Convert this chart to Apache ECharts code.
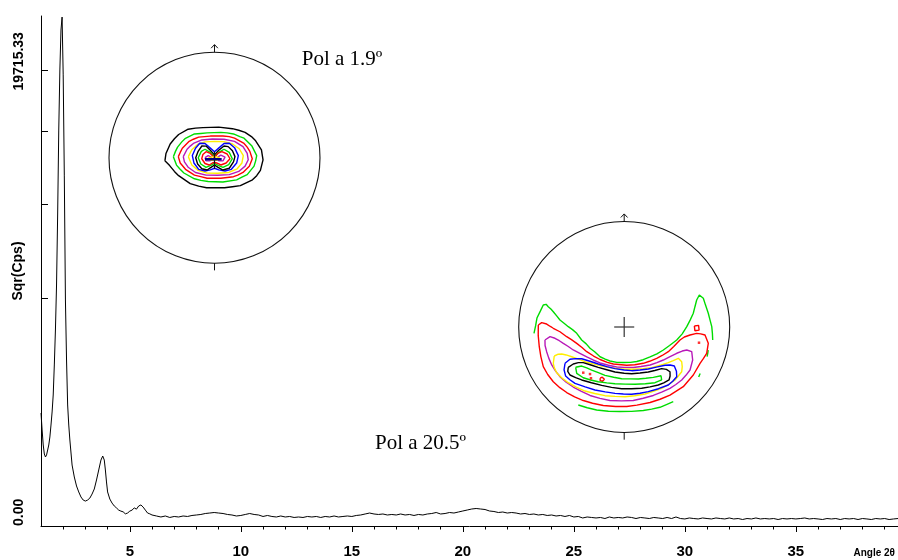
<!DOCTYPE html>
<html>
<head>
<meta charset="utf-8">
<title>Sqr(Cps) scan with pole figures</title>
<script src="https://cdn.jsdelivr.net/npm/echarts@6.0.0/dist/echarts.min.js"></script>
<style>
html, body { margin: 0; padding: 0; background: #fff; }
#chart { width: 898px; height: 560px; }
</style>
</head>
<body>
<div id="chart"></div>
<script>
// 2theta scan (degrees) and intensity (cps), plotted on a square-root scale
var angle = [
  1.00,1.05,1.10,1.15,1.20,1.25,1.30,1.35,1.40,1.45,
  1.50,1.55,1.60,1.65,1.70,1.75,1.80,1.85,1.90,1.95,
  2.00,2.05,2.10,2.15,2.20,2.25,2.30,2.40,2.50,2.60,
  2.70,2.80,2.90,3.00,3.10,3.20,3.30,3.40,3.50,3.60,
  3.70,3.78,3.85,3.90,3.95,4.00,4.10,4.20,4.30,4.40,
  4.50,4.60,4.70,4.80,4.90,5.00,5.10,5.20,5.30,5.40,
  5.50,5.60,5.70,5.80,5.90,6.00,
  6.2,6.4,6.6,6.8,7.0,7.2,7.4,7.6,7.8,8.0,
  8.2,8.4,8.6,8.8,9.0,9.2,9.4,9.6,9.8,10.0,
  10.2,10.4,10.6,10.8,11.0,11.2,11.4,11.6,11.8,12.0,
  12.2,12.4,12.6,12.8,13.0,13.2,13.4,13.6,13.8,14.0,
  14.2,14.4,14.6,14.8,15.0,15.2,15.4,15.6,15.8,16.0,
  16.2,16.4,16.6,16.8,17.0,17.2,17.4,17.6,17.8,18.0,
  18.2,18.4,18.6,18.8,19.0,19.2,19.4,19.6,19.8,20.0,
  20.2,20.4,20.6,20.8,21.0,21.2,21.4,21.6,21.8,22.0,
  22.2,22.4,22.6,22.8,23.0,23.2,23.4,23.6,23.8,24.0,
  24.2,24.4,24.6,24.8,25.0,25.2,25.4,25.6,25.8,26.0,
  26.2,26.4,26.6,26.8,27.0,27.2,27.4,27.6,27.8,28.0,
  28.2,28.4,28.6,28.8,29.0,29.2,29.4,29.6,29.8,30.0,
  30.2,30.4,30.6,30.8,31.0,31.2,31.4,31.6,31.8,32.0,
  32.2,32.4,32.6,32.8,33.0,33.2,33.4,33.6,33.8,34.0,
  34.2,34.4,34.6,34.8,35.0,35.2,35.4,35.6,35.8,36.0,
  36.2,36.4,36.6,36.8,37.0,37.2,37.4,37.6,37.8,38.0,
  38.2,38.4,38.6,38.8,39.0,39.2,39.4,39.6
];
var cps = [
  1211,875,623,492,452,479,548,623,752,968,
  1234,1629,2461,3647,5514,9182,14886,19741,23354,24590,
  19320,11690,4849,2616,1390,968,702,353,228,152,
  110,80,64,59,64,74,97,130,201,298,
  413,465,413,298,184,110,69,50,38,31,
  24,21,19,14,16,21,24,31,27,38,
  42,34,24,16,14,11.5,
  9.5,7.7,9.5,6.9,8.6,7.7,9.5,8.6,10.5,11.5,
  12.6,14.8,16.0,17.3,16.0,14.8,12.6,11.5,9.5,10.5,
  12.6,14.8,12.6,11.5,8.6,10.5,8.6,7.7,9.5,7.7,
  8.6,6.9,7.7,6.9,8.6,7.7,8.6,6.9,8.6,7.7,
  9.5,7.7,8.6,9.5,8.6,10.5,11.5,13.7,16.0,13.7,
  12.6,13.7,11.5,12.6,11.5,13.7,11.5,12.6,10.5,12.6,
  11.5,13.7,14.8,17.3,13.7,14.8,17.3,16.0,18.6,21.4,
  24.3,27.4,29.1,27.4,25.8,21.4,20.0,17.3,18.6,16.0,
  17.3,16.0,13.7,14.8,12.6,13.7,11.5,12.6,10.5,11.5,
  9.5,10.5,8.6,10.5,7.7,8.6,6.1,7.7,6.9,6.1,
  6.9,5.3,7.7,6.1,6.9,6.1,7.7,6.9,5.3,6.9,
  6.1,5.3,6.9,6.1,5.3,6.9,5.3,7.7,5.3,4.7,
  6.1,5.3,4.7,6.1,5.3,4.7,6.1,5.3,4.7,6.1,
  4.7,5.3,4.0,5.3,4.7,6.1,4.7,5.3,4.7,5.3,
  4.0,5.3,4.7,5.3,4.7,5.3,6.1,4.7,5.3,4.7,
  4.0,5.3,4.7,5.3,4.0,5.3,4.7,5.3,4.0,5.3,
  4.7,4.0,5.3,4.7,5.3,4.0,4.7,5.3
];
var xRange = [1, 39.6];
var xMajor = [5, 10, 15, 20, 25, 30, 35];
var xMinor = [2,3,4,6,7,8,9,11,12,13,14,16,17,18,19,21,22,23,24,26,27,28,29,31,32,33,34,36,37,38,39];
var yTop = 24693;
var yTicks = [4928.83, 9857.67, 14786.50, 19715.33];
var yLabelLow = 0;
var yLabelHigh = 19715.33;

// pole figure at 1.9 deg, units: circle radius = 100
var p1Black = [[-47,-3],[-46,4],[-42,13],[-38,18],[-34,22],[-25,27],[-18,28],[-11,28.5],[4,29],[17,27.5],[23,26],[29,24],[35,20],[39,16],[44.5,7.5],[46,-2],[43.5,-12],[40,-17],[36,-21],[24.5,-26.5],[17,-27.5],[9.5,-28.5],[-7.5,-28.5],[-15,-27],[-23,-24.5],[-34,-17],[-38,-13],[-42.5,-7.5],[-47,-3]];
var p1Green = [[-39,1],[-37,6],[-35,10],[-31,15],[-28,18],[-19,22.5],[-13,23],[-7,23.5],[6,24],[12,23.5],[18,22.5],[24,20],[28,18.5],[35.5,11],[38,6],[40,2],[39,-3],[37.5,-8],[31,-16],[26,-18.5],[21,-21],[8,-23],[-6,-22.5],[-13,-21.5],[-19,-20],[-29,-14.5],[-33,-10.5],[-36,-7],[-39,1]];
var p1Red = [[-34.3,1],[-32.5,5],[-30.5,9],[-24,15.5],[-20,17.5],[-15,19.5],[-4,20.5],[8,20.6],[14,20],[19,18.5],[28,13.5],[31,10],[33.5,6],[35.8,-1],[33,-8],[27,-14],[22,-16.5],[18,-18],[6,-19.5],[-7,-19.5],[-13,-18],[-19,-16.5],[-27.5,-11],[-32.5,-5],[-34.3,1]];
var p1Magenta = [[-29.6,1],[-26,8],[-23,11],[-20,13.5],[-12,16.8],[-2,17.7],[9,17.5],[19,15.5],[27,10.5],[31,4],[32,-2],[29,-8],[23,-13],[14,-16],[3,-16.7],[-8,-16.5],[-18,-14],[-25,-9],[-28.5,-4],[-29.6,1]];
var p1Yellow = [[-24.8,1],[-21.5,7.5],[-16,12.5],[-9,15],[0,15.5],[9,15.2],[17,13],[23.5,8.5],[27.3,2],[26,-5],[21.5,-10.5],[13.5,-14],[3,-14.8],[-7,-14.5],[-15.5,-12],[-21.5,-7],[-24.8,1]];
var p1Blue = [[0,5.7],[-5,10],[-9,13.5],[-14,13.7],[-18,9],[-21,2],[-19.5,-5],[-15,-11],[-9,-12.6],[-4,-11.5],[0,-10],[4,-11.5],[10,-12.6],[16,-11],[21,-5],[22.6,2],[19,9.5],[14,13.7],[9,13.5],[5,10],[0,5.7]];
var p1Black2 = [[0,2.6],[-4,7],[-8,11],[-12,11.1],[-15.5,6],[-17.8,0],[-16,-6],[-12,-10.5],[-7,-11.7],[-3,-9],[0,-6.9],[3,-9],[8,-11.7],[14,-10],[18,-4],[19.4,1],[17,6.5],[13,10.5],[9,11.1],[4,7],[0,2.6]];
var p1Green2 = [[0,0.9],[-4,5],[-9,8],[-12.5,6],[-15.4,0],[-13,-6],[-8,-9.1],[-3,-7],[0,-5.3],[3,-7],[8,-9.1],[13.5,-6.5],[16.9,-1],[14,5],[9,8],[4,5],[0,0.9]];
var p1Red2 = [[0,0],[-4,4],[-8,5.7],[-11,3],[-12.1,-1],[-9,-5.5],[-5,-6.9],[-2,-5],[0,-4.4],[2,-5],[6,-6.9],[11,-5],[14.7,-1],[12,3.5],[7,5.7],[3,4],[0,0]];
var p1MagentaL = [[-9,0],[-6,2],[-3,0.5],[-4,-3],[-8,-3],[-9,0]];
var p1MagentaR = [[3,0.5],[6,2.5],[10,0.5],[8,-3],[4,-3],[3,0.5]];
var p1Yellow2 = [[-6,-0.5],[-2,0.8],[2,0.8],[5,-0.5],[2,-2.5],[-3,-2.5],[-6,-0.5]];
var p1Bar = [[-9,-1.5],[6.8,-1.5]];
var p1Stem = [[0,5.7],[0,-10.5]];

// pole figure at 20.5 deg
var p2GreenOuter = [[-85.5,-6],[-84,1],[-82.7,8.5],[-79.5,15],[-76.7,20.9],[-74,21.5],[-72,19.2],[-69.5,17],[-67.2,14.5],[-64,10.5],[-60.9,6.6],[-57,3.5],[-53,0.3],[-49,-2.5],[-45,-6],[-40.3,-12.3],[-36,-16],[-32.4,-20.2],[-28,-23.5],[-22.9,-28.2],[-18,-30.5],[-13.5,-32.2],[-7,-33.5],[-0.9,-33.7],[6,-33.5],[11.9,-32.7],[18,-31],[24.5,-28.4],[31,-25.5],[37.1,-21.8],[43,-17.5],[49.8,-12.3],[55,-6.5],[59.3,0.3],[62.5,6.5],[65.5,13],[67,19],[68.7,25.6],[71.2,30.3],[73,29],[75,27.2],[77,21],[79.7,13],[81.5,6],[83,0.3],[83.6,-6],[83.9,-12.3]];
var p2GreenBottom = [[-43.5,-73.9],[-35,-76.5],[-26.1,-78.7],[-15,-79.8],[-4,-80.1],[7,-80],[18.1,-79.2],[26,-77.8],[33.9,-76.1],[40,-73.5],[46.5,-70.8]];
var p2GreenBitA = [[79.7,-22],[78.6,-28]];
var p2GreenBitB = [[72,-44],[70.6,-47.5]];
var p2Red = [[-81.4,1.9],[-78.2,4.1],[-73.5,2.8],[-70,0.5],[-67.2,-1.2],[-60.9,-4.5],[-54.5,-9.2],[-50,-12],[-45,-15.5],[-40,-19.5],[-35.5,-23.4],[-29,-27.5],[-22.9,-30.8],[-16,-33.5],[-10.3,-35.1],[2.4,-36.3],[10,-35.8],[18.1,-34.4],[24,-32.5],[30.8,-29.7],[36,-27],[41.8,-23.4],[47,-18.5],[52.9,-12.3],[57,-9.5],[62.4,-7.6],[68.7,-6],[72.5,-6.5],[76.6,-7.6],[79.7,-15.5],[78.2,-24.9],[75,-30],[71.9,-34.4],[65.5,-45.5],[56,-56.6],[43.4,-64.5],[34,-68.5],[24.5,-71.6],[12,-74],[2.4,-75.4],[-8,-75.3],[-19.8,-74.4],[-30,-72.3],[-38.8,-69.7],[-47,-66.3],[-54.5,-62.1],[-61,-57.5],[-67.2,-51.9],[-72.5,-45],[-76.7,-37.6],[-79,-28],[-80.5,-18.7],[-81.5,-8],[-81.4,1.9]];
var p2RedLoop = [[66.5,1],[70.5,1.5],[71,-3],[67,-3.5],[66.5,1]];
var p2RedRing = [[-22.8,-48.5],[-20.8,-47.6],[-18.8,-49.6],[-20.8,-51.6],[-22.8,-50.6],[-22.8,-48.5]];
var p2RedDots = [[70.9,-14.9],[-38.8,-43.3],[-32.4,-44.6],[-31.5,-48.6]];
var p2Magenta = [[-75.1,-12.3],[-70.3,-9.2],[-65.6,-10.7],[-61.5,-13],[-57.7,-15.5],[-53,-18.5],[-48.3,-21.8],[-42,-25],[-35.5,-28.4],[-29,-31.5],[-22.9,-34.1],[-15,-36.3],[-7.1,-37.9],[0,-38.3],[8.6,-38.4],[16,-37.5],[24.5,-36],[31,-33.8],[37.1,-31.3],[43,-28.3],[49.8,-24.9],[55,-22.8],[59.3,-21.8],[64,-23.4],[64.9,-31.3],[62.4,-40.8],[58.5,-45.8],[54.5,-50.2],[49,-54.5],[43.4,-58.1],[35.5,-61.8],[27.6,-64.9],[18,-67.5],[8.6,-69.7],[-2.5,-70],[-13.5,-69.7],[-23,-67.6],[-32.4,-64.9],[-40.5,-61],[-48.3,-56.9],[-55,-52.3],[-60.9,-47.1],[-65,-41.8],[-68.7,-36],[-71.5,-29.5],[-73.5,-23.4],[-75,-17.5],[-75.1,-12.3]];
var p2Yellow = [[-66.3,-27.5],[-62.5,-25.8],[-59.2,-25.6],[-55,-26.5],[-49.8,-28.2],[-43.5,-30.5],[-37.2,-32.9],[-29,-35],[-21.3,-37],[-13.5,-38.5],[-5.6,-39.5],[2,-40],[10.2,-40.1],[18,-39.5],[26.1,-38.6],[34,-36.3],[41.8,-33.8],[46.5,-31.8],[51.3,-29.7],[54.5,-32.9],[55,-37.5],[54.5,-42.4],[48.2,-50.2],[42,-54.5],[35.5,-58.1],[27.5,-61],[19.7,-63.5],[10,-65.2],[0.8,-66.1],[-8.7,-65.8],[-18.2,-65.1],[-28,-63],[-37.2,-60.7],[-45.5,-57],[-53,-52.8],[-59,-48.3],[-64,-43.3],[-66.3,-38.5],[-67.2,-34.4],[-66.3,-27.5]];
var p2Blue = [[-56.1,-34.4],[-51.4,-30.6],[-46,-30],[-40.3,-30.1],[-32.5,-32.5],[-24.6,-35.1],[-16.5,-37.5],[-8.7,-39.5],[0,-40.8],[7.1,-41.4],[15,-40.8],[22.8,-39.8],[30.5,-38],[38.7,-36.3],[43.5,-36],[47.5,-37],[49.5,-42],[49.8,-47.1],[46,-51.5],[41.8,-55],[32.5,-58.5],[22.8,-61.3],[15,-62.8],[7.1,-63.8],[-0.8,-63.5],[-8.7,-62.9],[-18,-61.5],[-27.7,-59.7],[-37,-56.8],[-46.6,-53.4],[-51.5,-50],[-55.5,-46.5],[-57,-40.5],[-56.1,-34.4]];
var p2Black = [[-53,-38.2],[-48.3,-35.1],[-43.5,-33.8],[-38.8,-33.8],[-31.5,-36],[-24.6,-38.2],[-16.5,-40.5],[-8.7,-42.7],[0,-43.8],[7.1,-44.3],[15,-43.6],[22.8,-42.7],[29,-41.2],[35.5,-39.5],[40,-40.2],[43.4,-42.4],[43.5,-46.5],[42.5,-50.2],[37.5,-53],[32.3,-55],[24.5,-56.8],[16.6,-58.1],[7,-58.5],[-2.4,-58.5],[-12,-57.2],[-21.3,-55.3],[-31,-52.8],[-40.3,-50.2],[-46,-48],[-51.4,-45.5],[-53.5,-42],[-53,-38.2]];
var p2GreenInner = [[-46,-38.2],[-40.3,-37],[-35.5,-38.8],[-30.8,-40.8],[-24.5,-43.3],[-18.2,-45.8],[-10,-47.6],[-2.4,-49],[5.5,-49.2],[13.4,-49.3],[20.5,-48.6],[27.6,-47.7],[34.9,-46.2],[35.5,-50.2],[29.2,-52.8],[20,-53.8],[10.2,-54.3],[0.8,-54.1],[-8.7,-53.8],[-16.5,-53],[-24.6,-51.9],[-31.8,-50.2],[-38.8,-48.1],[-45,-43.9],[-46,-38.2]];

// marks drawn on both pole figures
var arrowStem = [[0,100],[0,107]];
var arrowHead = [[-3.2,103.8],[0,107.2],[3.2,103.8]];
var bottomTick = [[0,-100],[0,-106.8]];
var crossH = [[-9.5,0],[9.5,0]];
var crossV = [[0,-9.5],[0,9.5]];

var GREEN = '#00dc00', RED = '#ff0000', MAGENTA = '#b818b8', YELLOW = '#ffee00', BLUE = '#0000ff', BLACK = '#000000';

var chart = echarts.init(document.getElementById('chart'));

// pole 1 uses xAxis 2 / yAxis 2, pole 2 uses xAxis 3 / yAxis 3
function poly(data, color, pole, width) {
    return {
        type: 'line', xAxisIndex: pole + 1, yAxisIndex: pole + 1, data: data,
        symbol: 'none', silent: true, clip: false, z: 3,
        lineStyle: { color: color, width: width || 1.4 }
    };
}

var series = [{
    type: 'line',
    xAxisIndex: 0, yAxisIndex: 0,
    data: angle.map(function (a, i) { return [a, Math.sqrt(cps[i])]; }),
    symbol: 'none', silent: true,
    lineStyle: { color: '#000', width: 1 }
}];

[[p1Black, BLACK], [p1Green, GREEN], [p1Red, RED], [p1Magenta, MAGENTA], [p1Yellow, YELLOW],
 [p1Blue, BLUE], [p1Black2, BLACK], [p1Green2, GREEN], [p1Red2, RED],
 [p1MagentaL, MAGENTA], [p1MagentaR, MAGENTA], [p1Yellow2, YELLOW]].forEach(function (c) {
    series.push(poly(c[0], c[1], 1));
});
series.push(poly(p1Stem, '#111', 1, 1.2));
series.push(poly(p1Bar, '#000080', 1, 2.5));

[[p2GreenOuter, GREEN], [p2GreenBottom, GREEN], [p2GreenBitA, GREEN], [p2GreenBitB, GREEN],
 [p2Red, RED], [p2RedLoop, RED], [p2RedRing, RED], [p2Magenta, MAGENTA], [p2Yellow, YELLOW],
 [p2Blue, BLUE], [p2Black, BLACK], [p2GreenInner, GREEN]].forEach(function (c) {
    series.push(poly(c[0], c[1], 2));
});
series.push({
    type: 'scatter', xAxisIndex: 3, yAxisIndex: 3, data: p2RedDots,
    symbol: 'rect', symbolSize: 2.5, silent: true, z: 3,
    itemStyle: { color: RED }
});

[1, 2].forEach(function (p) {
    series.push(poly(arrowStem, '#111', p, 1));
    series.push(poly(arrowHead, '#111', p, 1));
    series.push(poly(bottomTick, '#111', p, 1));
});
series.push(poly(crossH, '#333', 2, 1.2));
series.push(poly(crossV, '#333', 2, 1.2));

var labelFont = { fontFamily: '"Liberation Sans", Arial, sans-serif', fontWeight: 'bold', color: '#000' };

function poleAxis(grid) {
    return { type: 'value', gridIndex: grid, min: -100, max: 100, show: false };
}

chart.setOption({
    animation: false,
    backgroundColor: '#fff',
    grid: [
        { left: 41, top: 16, right: 0, bottom: 34, outerBoundsMode: 'none' },
        { left: 109, top: 52.2, width: 211, height: 211, outerBoundsMode: 'none' },
        { left: 518.7, top: 221.5, width: 211, height: 211, outerBoundsMode: 'none' }
    ],
    polar: [
        { center: [214.5, 157.7], radius: 105.5 },
        { center: [624.2, 327], radius: 105.5 }
    ],
    angleAxis: [0, 1].map(function (i) {
        return {
            polarIndex: i, type: 'value', min: 0, max: 360,
            axisLine: { show: true, lineStyle: { color: '#111', width: 1.1 } },
            axisTick: { show: false }, axisLabel: { show: false }, splitLine: { show: false }
        };
    }),
    radiusAxis: [0, 1].map(function (i) {
        return { polarIndex: i, min: 0, max: 1, show: false,
                 axisLine: { show: false }, axisTick: { show: false }, axisLabel: { show: false }, splitLine: { show: false } };
    }),
    xAxis: [{
        type: 'value', gridIndex: 0, position: 'bottom', min: xRange[0], max: xRange[1],
        axisLine: { lineStyle: { color: '#000', width: 1 } },
        axisTick: { customValues: xMajor, length: 6, lineStyle: { color: '#000' } },
        axisLabel: Object.assign({ customValues: xMajor, margin: 18, fontSize: 15 }, labelFont),
        splitLine: { show: false },
        name: 'Angle 2θ', nameLocation: 'end', nameGap: -3, nameMoveOverlap: false,
        nameTextStyle: Object.assign({ fontSize: 10, align: 'right', verticalAlign: 'top', padding: [22, 0, 0, 0] }, labelFont)
    }, {
        type: 'value', gridIndex: 0, position: 'bottom', min: xRange[0], max: xRange[1],
        axisLine: { show: false },
        axisTick: { customValues: xMinor, length: 3.5, lineStyle: { color: '#000' } },
        axisLabel: { show: false }, splitLine: { show: false }
    }, poleAxis(1), poleAxis(2)],
    yAxis: [{
        type: 'value', gridIndex: 0, position: 'left', min: 0, max: Math.sqrt(yTop),
        axisLine: { show: true, lineStyle: { color: '#000', width: 1 } },
        axisTick: { show: true, inside: true, length: 7, customValues: yTicks.map(Math.sqrt), lineStyle: { color: '#000' } },
        axisLabel: Object.assign({
            customValues: [Math.sqrt(yLabelLow)], rotate: 90, margin: 15, fontSize: 14,
            alignMinLabel: 'left',
            formatter: function (v) { return (v * v).toFixed(2); }
        }, labelFont),
        splitLine: { show: false },
        name: 'Sqr(Cps)', nameLocation: 'middle', nameRotate: 90, nameGap: 16, nameMoveOverlap: false,
        nameTextStyle: Object.assign({ fontSize: 14 }, labelFont)
    }, {
        // carries the upper tick label of the same scale
        type: 'value', gridIndex: 0, position: 'left', offset: 0, min: 0, max: Math.sqrt(yTop),
        axisLine: { show: false }, axisTick: { show: false }, splitLine: { show: false },
        axisLabel: {
            customValues: [Math.sqrt(yLabelHigh)], rotate: 90, margin: 15,
            formatter: function (v) { return '{t|' + (v * v).toFixed(2) + '}'; },
            rich: { t: Object.assign({ fontSize: 14, padding: [0, 0, 0, 18] }, labelFont) }
        }
    }, poleAxis(1), poleAxis(2)],
    graphic: [
        { type: 'text', x: 301.7, y: 59, silent: true,
          style: { text: 'Pol a 1.9º', font: '21px "Liberation Serif", "Times New Roman", serif', fill: '#000', verticalAlign: 'middle' } },
        { type: 'text', x: 375, y: 443, silent: true,
          style: { text: 'Pol a 20.5º', font: '21px "Liberation Serif", "Times New Roman", serif', fill: '#000', verticalAlign: 'middle' } }
    ],
    series: series
});
</script>
</body>
</html>
